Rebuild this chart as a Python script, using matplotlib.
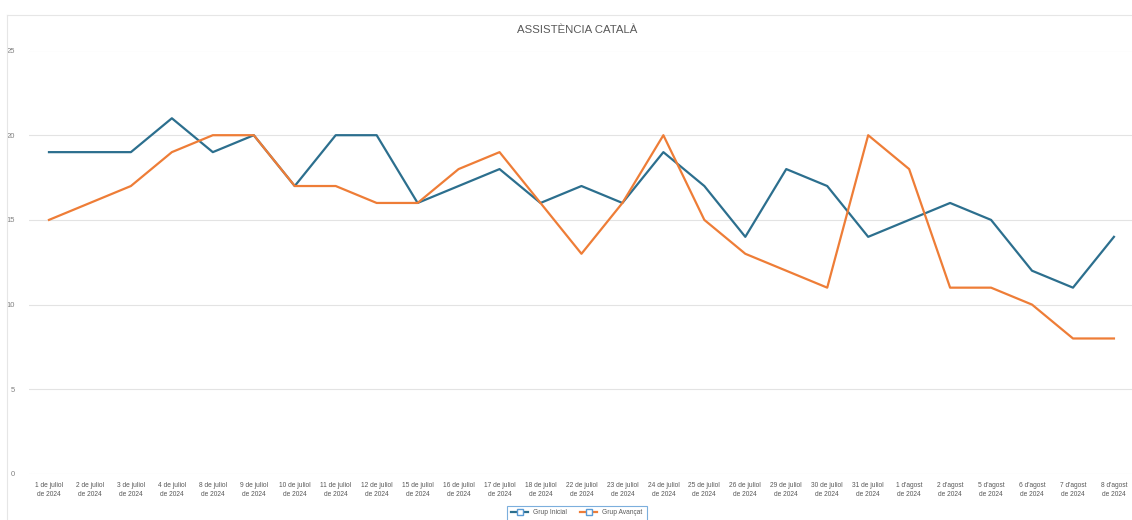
import matplotlib
matplotlib.use("Agg")
import matplotlib.pyplot as plt
from matplotlib.lines import Line2D

dates = ["1 de juliol\nde 2024", "2 de juliol\nde 2024", "3 de juliol\nde 2024",
         "4 de juliol\nde 2024", "8 de juliol\nde 2024", "9 de juliol\nde 2024",
         "10 de juliol\nde 2024", "11 de juliol\nde 2024", "12 de juliol\nde 2024",
         "15 de juliol\nde 2024", "16 de juliol\nde 2024", "17 de juliol\nde 2024",
         "18 de juliol\nde 2024", "22 de juliol\nde 2024", "23 de juliol\nde 2024",
         "24 de juliol\nde 2024", "25 de juliol\nde 2024", "26 de juliol\nde 2024",
         "29 de juliol\nde 2024", "30 de juliol\nde 2024", "31 de juliol\nde 2024",
         "1 d'agost\nde 2024", "2 d'agost\nde 2024", "5 d'agost\nde 2024",
         "6 d'agost\nde 2024", "7 d'agost\nde 2024", "8 d'agost\nde 2024"]
grup_inicial = [19, 19, 19, 21, 19, 20, 17, 20, 20, 16, 17, 18, 16, 17, 16, 19, 17,
                14, 18, 17, 14, 15, 16, 15, 12, 11, 14]
grup_avancat = [15, 16, 17, 19, 20, 20, 17, 17, 16, 16, 18, 19, 16, 13, 16, 20, 15,
                13, 12, 11, 20, 18, 11, 11, 10, 8, 8]

plt.rcParams['font.family'] = ['Liberation Sans Narrow', 'Liberation Sans', 'DejaVu Sans']

W, H = 1132, 520
fig = plt.figure(figsize=(W / 100, H / 100), dpi=100)
ax = fig.add_axes([28.5 / W, 46 / H, 1 - 28.5 / W, (474 - 50.5) / H])

x = list(range(len(dates)))
ax.plot(x, grup_inicial, color="#2C6F8E", lw=1.6, label="Grup Inicial")
ax.plot(x, grup_avancat, color="#EE7D37", lw=1.6, label="Grup Avançat")

ax.set_ylim(0, 25)
ax.set_xlim(-0.5, -0.5 + (W - 28.5) / 40.96)
ax.set_yticks([0, 5, 10, 15, 20, 25])
ax.set_xticks(x)
ax.set_xticklabels(dates, fontsize=4.8, color="#595959", linespacing=1.5)
ax.tick_params(axis="y", labelsize=5.5, labelcolor="#808080", length=0, pad=10)
ax.tick_params(axis="x", length=0, pad=5.5)
ax.grid(axis="y", color="#e3e3e3", lw=0.8)
ax.set_axisbelow(True)
for s in ax.spines.values():
    s.set_visible(False)

fig.text(577 / W, 1 - 30 / H, "ASSISTÈNCIA CATALÀ", ha="center", va="center",
         fontsize=8.2, color="#595959")

# chart area border
fig.add_artist(Line2D([6.5 / W, 6.5 / W], [0, 1 - 15 / H], color="#e6e6e6", lw=0.8))
fig.add_artist(Line2D([6.5 / W, 1], [1 - 15 / H, 1 - 15 / H], color="#e6e6e6", lw=0.8))

h1 = Line2D([], [], color="#2C6F8E", lw=1.6, marker="s", markersize=4,
            markerfacecolor="#ffffff", markeredgecolor="#5b9bd5")
h2 = Line2D([], [], color="#EE7D37", lw=1.6, marker="s", markersize=4,
            markerfacecolor="#ffffff", markeredgecolor="#5b9bd5")
leg = fig.legend([h1, h2], ["Grup Inicial", "Grup Avançat"], ncol=2,
                 loc="center", bbox_to_anchor=(577 / W, 1 - 513 / H),
                 fontsize=4.8, frameon=True, fancybox=False, handlelength=2.5,
                 columnspacing=2, borderpad=0.6, labelcolor="#595959")
leg.get_frame().set_edgecolor("#5b9bd5")
leg.get_frame().set_linewidth(0.8)

fig.savefig("out.png", dpi=100)
